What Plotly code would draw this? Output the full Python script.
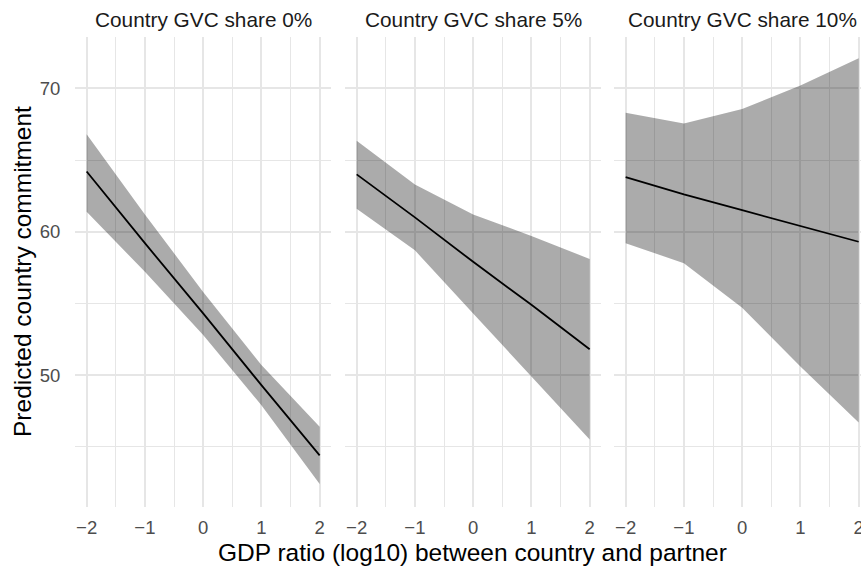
import plotly.graph_objects as go

# ---- data ----
x_vals = [-2, -1, 0, 1, 2]
panel_titles = ["Country GVC share 0%", "Country GVC share 5%", "Country GVC share 10%"]

fit_0 = [64.2, 59.2, 54.3, 49.3, 44.4]
upper_0 = [66.8, 61.2, 55.8, 50.7, 46.4]
lower_0 = [61.4, 57.2, 52.8, 47.9, 42.4]

fit_5 = [64.0, 61.0, 57.9, 54.9, 51.8]
upper_5 = [66.35, 63.3, 61.2, 59.7, 58.1]
lower_5 = [61.6, 58.7, 54.3, 49.9, 45.5]

fit_10 = [63.8, 62.6, 61.5, 60.4, 59.3]
upper_10 = [68.3, 67.55, 68.55, 70.2, 72.1]
lower_10 = [59.2, 57.8, 54.7, 50.6, 46.7]

x_title = "GDP ratio (log10) between country and partner"
y_title = "Predicted country commitment"

W, H = 861, 568
FONT = "Liberation Sans, Arial, sans-serif"
GRID = "#E6E6E6"
BAND = "rgba(0,0,0,0.33)"

panels = [
    (fit_0, upper_0, lower_0),
    (fit_5, upper_5, lower_5),
    (fit_10, upper_10, lower_10),
]

fig = go.Figure()
for i, (fit, up, lo) in enumerate(panels):
    xa = "x" if i == 0 else f"x{i+1}"
    ya = "y" if i == 0 else f"y{i+1}"
    fig.add_trace(go.Scatter(
        x=x_vals + x_vals[::-1], y=up + lo[::-1],
        fill="toself", fillcolor=BAND, mode="none",
        xaxis=xa, yaxis=ya, showlegend=False, hoverinfo="skip"))
    fig.add_trace(go.Scatter(
        x=x_vals, y=fit, mode="lines",
        line=dict(color="black", width=1.8),
        xaxis=xa, yaxis=ya, showlegend=False))

# panel geometry in pixels
lefts = [75, 345, 614]
pw = 256.3
top_px, bot_px = 37, 507
ydom = [1 - bot_px / H, 1 - top_px / H]
yrange = [40.8, 73.58]

def xaxis_cfg(i):
    left = lefts[i]
    right = left + pw
    rng = [-2.2, 2.2]
    if right > W:
        rng = [-2.2, -2.2 + (W - left) / pw * 4.4]
        right = W
    return dict(
        domain=[left / W, right / W], range=rng, automargin=False,
        tickmode="linear", tick0=0, dtick=1,
        showgrid=True, gridcolor=GRID, gridwidth=1.5,
        minor=dict(dtick=0.5, tick0=0, showgrid=True, gridcolor=GRID, gridwidth=1.2),
        zeroline=False, showline=False,
        ticks="outside", ticklen=4, tickcolor="rgba(0,0,0,0)",
        ticklabeloverflow="allow",
        tickfont=dict(family=FONT, size=18.5, color="#4D4D4D"),
        anchor="y" if i == 0 else f"y{i+1}",
    )

def yaxis_cfg(i):
    d = dict(
        domain=ydom, range=yrange, automargin=False,
        tickmode="linear", tick0=0, dtick=10,
        showgrid=True, gridcolor=GRID, gridwidth=1.5,
        minor=dict(dtick=5, tick0=0, showgrid=True, gridcolor=GRID, gridwidth=1.2),
        zeroline=False, showline=False,
        ticks="outside", ticklen=10, tickcolor="rgba(0,0,0,0)",
        tickfont=dict(family=FONT, size=18.5, color="#4D4D4D"),
        anchor="x" if i == 0 else f"x{i+1}",
    )
    if i > 0:
        d["matches"] = "y"
        d["showticklabels"] = False
        d["ticks"] = ""
    return d

layout = dict(
    width=W, height=H,
    margin=dict(l=0, r=0, t=0, b=0),
    paper_bgcolor="white", plot_bgcolor="white",
    font=dict(family=FONT),
    showlegend=False,
)
for i in range(3):
    layout["xaxis" if i == 0 else f"xaxis{i+1}"] = xaxis_cfg(i)
    layout["yaxis" if i == 0 else f"yaxis{i+1}"] = yaxis_cfg(i)

annotations = []
for i, t in enumerate(panel_titles):
    cx = lefts[i] + pw / 2
    annotations.append(dict(
        text=t, x=cx / W, y=1 - 19 / H, xref="paper", yref="paper",
        xanchor="center", yanchor="middle", showarrow=False,
        font=dict(family=FONT, size=20.8, color="#1A1A1A")))
annotations.append(dict(
    text=x_title, x=(lefts[0] + lefts[2] + pw) / 2 / W, y=1 - 552 / H,
    xref="paper", yref="paper", xanchor="center", yanchor="middle",
    showarrow=False, font=dict(family=FONT, size=24.5, color="black")))
annotations.append(dict(
    text=y_title, x=22 / W, y=1 - 272 / H, xref="paper", yref="paper",
    xanchor="center", yanchor="middle", textangle=-90,
    showarrow=False, font=dict(family=FONT, size=24.5, color="black")))
layout["annotations"] = annotations

fig.update_layout(**layout)
fig.write_html(
    "out.html",
    config={"displayModeBar": False},
    post_script="document.body.style.margin='0';document.body.style.overflow='hidden';",
)
